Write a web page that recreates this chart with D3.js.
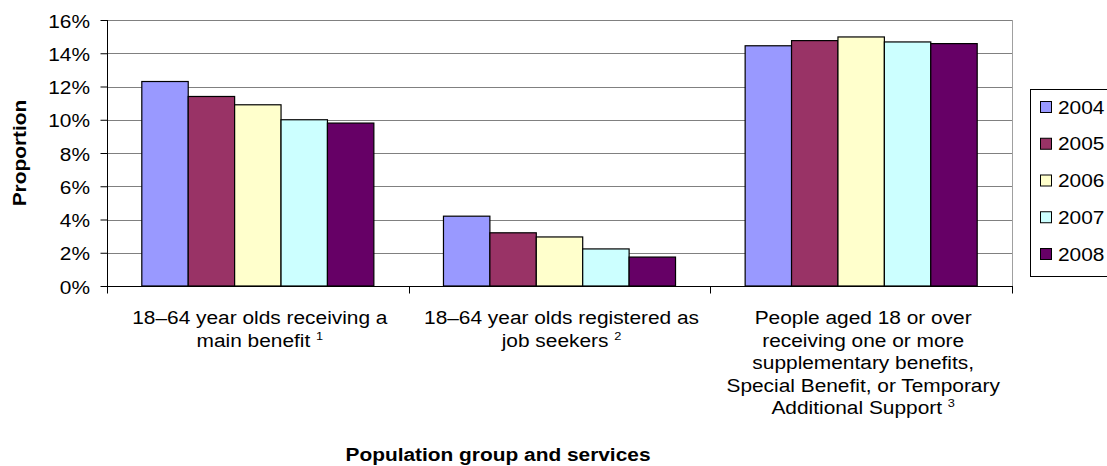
<!DOCTYPE html>
<html>
<head>
<meta charset="utf-8">
<script src="https://cdn.jsdelivr.net/npm/d3@7"></script>
<style>
  html, body { margin: 0; padding: 0; background: #fff; }
  svg { display: block; }
  text { font-family: "Liberation Sans", Arial, sans-serif; fill: #000; }
</style>
</head>
<body>
<svg id="chart" width="1107" height="466"></svg>
<script>
// Population groups (x categories), wrapped onto lines, with footnote markers
const categories = ["main", "jobseekers", "supplementary"];
const categoryLines = [
  ["18–64 year olds receiving a", "main benefit"],
  ["18–64 year olds registered as", "job seekers"],
  ["People aged 18 or over", "receiving one or more", "supplementary benefits,", "Special Benefit, or Temporary", "Additional Support"]
];
const footnotes = ["1", "2", "3"];

// Years (series)
const years = ["2004", "2005", "2006", "2007", "2008"];
const yearColors = ["#9999FF", "#993366", "#FFFFCC", "#CCFFFF", "#660066"];

// Proportions per year, one value per population group
const values2004 = [0.123, 0.042, 0.1445];
const values2005 = [0.114, 0.032, 0.1476];
const values2006 = [0.109, 0.0295, 0.1498];
const values2007 = [0.100, 0.0223, 0.1468];
const values2008 = [0.098, 0.0174, 0.1458];
const seriesValues = [values2004, values2005, values2006, values2007, values2008];

// Y axis ticks
const yTicks = [0, 0.02, 0.04, 0.06, 0.08, 0.10, 0.12, 0.14, 0.16];

const yAxisTitle = "Proportion";
const xAxisTitle = "Population group and services";

// ---- layout ----
const plot = { left: 107, right: 1012, top: 20, bottom: 286 };
const FONT = 18;
const SX = 1.16;   // horizontal stretch of the chart lettering

const svg = d3.select("#chart");

const x0 = d3.scaleBand()
  .domain(categories)
  .range([plot.left, plot.right])
  .paddingInner(0).paddingOuter(0);

const x1 = d3.scaleBand()
  .domain(years)
  .range([0, x0.bandwidth()])
  .paddingInner(0)
  .paddingOuter(0.75);

const y = d3.scaleLinear()
  .domain([0, 0.16])
  .range([plot.bottom, plot.top]);

const color = d3.scaleOrdinal().domain(years).range(yearColors);

// gridlines
svg.append("g")
  .selectAll("line")
  .data(yTicks.filter(d => d > 0))
  .join("line")
  .attr("x1", plot.left).attr("x2", plot.right)
  .attr("y1", d => Math.round(y(d)) + 0.5).attr("y2", d => Math.round(y(d)) + 0.5)
  .attr("stroke", "#808080").attr("stroke-width", 1);

// right edge of plot frame
svg.append("line")
  .attr("x1", plot.right + 0.5).attr("x2", plot.right + 0.5)
  .attr("y1", plot.top).attr("y2", plot.bottom)
  .attr("stroke", "#a0a0a0").attr("stroke-width", 1);

// bars
const rows = [];
years.forEach((yr, si) => {
  categories.forEach((c, ci) => {
    rows.push({ year: yr, cat: c, value: seriesValues[si][ci] });
  });
});

svg.append("g")
  .selectAll("rect")
  .data(rows)
  .join("rect")
  .attr("x", d => x0(d.cat) + x1(d.year))
  .attr("y", d => y(d.value))
  .attr("width", x1.bandwidth())
  .attr("height", d => y(0) - y(d.value))
  .attr("fill", d => color(d.year))
  .attr("stroke", "#000")
  .attr("stroke-width", 1.2);

// y axis
const yAxis = svg.append("g")
  .attr("transform", `translate(${plot.left + 0.5},0)`)
  .call(d3.axisLeft(y).tickValues(yTicks).tickFormat(d3.format(".0%")).tickSize(7).tickPadding(0));
yAxis.select(".domain").attr("stroke", "#000").attr("d", `M0,${plot.top}V${plot.bottom}`);
yAxis.selectAll(".tick line").attr("stroke", "#000");
yAxis.selectAll(".tick text")
  .attr("font-size", FONT)
  .attr("font-family", "Liberation Sans, Arial, sans-serif")
  .attr("x", -17.5 / SX)
  .attr("dy", "0.4em")
  .attr("transform", `scale(${SX},1)`);

// x axis: line plus tick marks at category boundaries
const xAxis = svg.append("g").attr("transform", `translate(0,${plot.bottom + 0.5})`);
xAxis.append("line")
  .attr("x1", plot.left).attr("x2", plot.right + 1)
  .attr("stroke", "#000");
const boundaries = categories.map(c => x0(c)).concat([x0(categories[categories.length - 1]) + x0.bandwidth()]);
xAxis.selectAll(".bt")
  .data(boundaries)
  .join("line")
  .attr("class", "bt")
  .attr("x1", d => Math.round(d) + 0.5).attr("x2", d => Math.round(d) + 0.5)
  .attr("y1", 0).attr("y2", 7)
  .attr("stroke", "#000");

// category labels
const firstBaseline = 324;
const lineGap = 22.5;
categories.forEach((c, ci) => {
  const cx = x0(c) + x0.bandwidth() / 2 + 2;
  const lines = categoryLines[ci];
  lines.forEach((ln, li) => {
    const t = svg.append("text")
      .attr("transform", `translate(${cx},${firstBaseline + li * lineGap}) scale(${SX},1)`)
      .attr("text-anchor", "middle")
      .attr("font-size", FONT);
    t.append("tspan").text(ln);
    if (li === lines.length - 1) {
      t.append("tspan").text(" ");
      t.append("tspan")
        .attr("font-size", 11)
        .attr("dy", -7)
        .text(footnotes[ci]);
    }
  });
});

// axis titles
svg.append("text")
  .attr("transform", `translate(498,461) scale(${SX},1)`)
  .attr("text-anchor", "middle")
  .attr("font-size", FONT)
  .attr("font-weight", "bold")
  .text(xAxisTitle);

svg.append("text")
  .attr("transform", `translate(25.7,${(plot.top + plot.bottom) / 2}) rotate(-90) scale(${SX},1)`)
  .attr("text-anchor", "middle")
  .attr("font-size", FONT)
  .attr("font-weight", "bold")
  .text(yAxisTitle);

// legend
const legend = svg.append("g");
legend.append("rect")
  .attr("x", 1030.5).attr("y", 89.5)
  .attr("width", 100).attr("height", 187)
  .attr("fill", "#fff").attr("stroke", "#000").attr("stroke-width", 1);

const legendY = d3.scalePoint().domain(years).range([107, 254]);
const items = legend.selectAll(".item")
  .data(years)
  .join("g")
  .attr("class", "item")
  .attr("transform", d => `translate(0,${legendY(d)})`);
items.append("rect")
  .attr("x", 1040.5).attr("y", -5.5)
  .attr("width", 11).attr("height", 11)
  .attr("fill", d => color(d))
  .attr("stroke", "#000").attr("stroke-width", 1);
items.append("text")
  .attr("transform", `translate(1058,6.5) scale(${SX},1)`)
  .attr("font-size", FONT)
  .text(d => d);
</script>
</body>
</html>
